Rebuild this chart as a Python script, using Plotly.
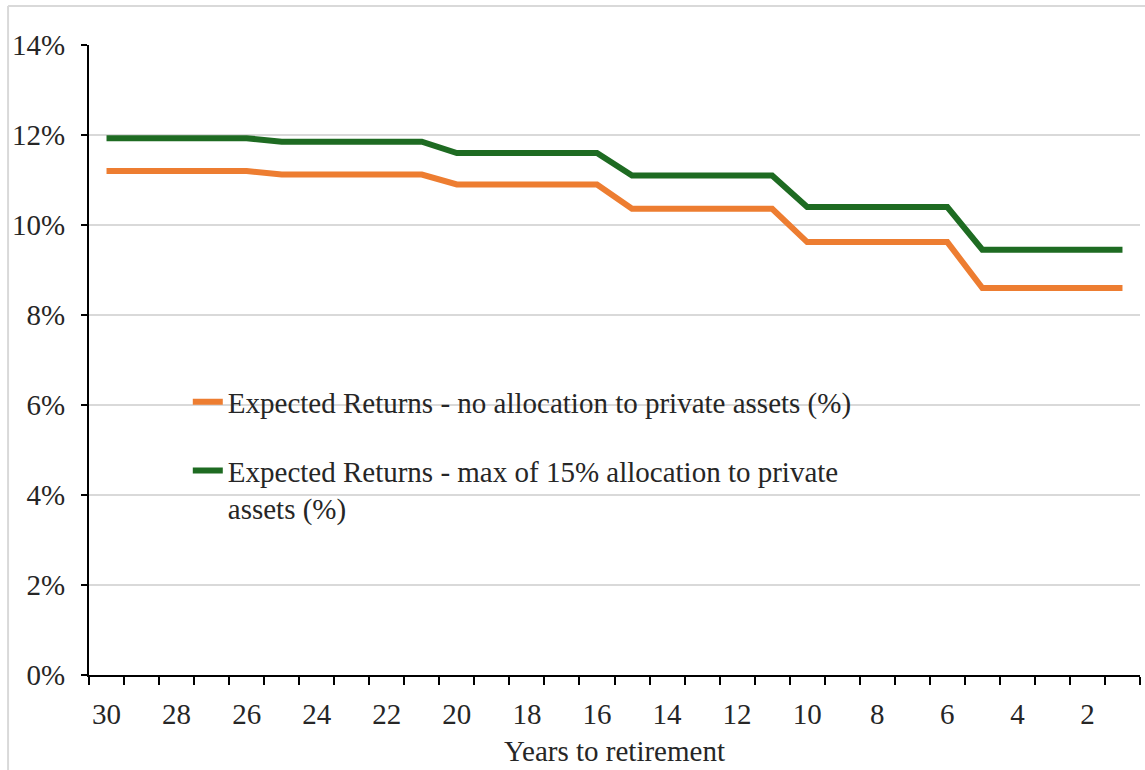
import plotly.graph_objects as go

years = ["30", "29", "28", "27", "26", "25", "24", "23", "22", "21",
         "20", "19", "18", "17", "16", "15", "14", "13", "12", "11",
         "10", "9", "8", "7", "6", "5", "4", "3", "2", "1"]

no_private = [11.20, 11.20, 11.20, 11.20, 11.20,
              11.12, 11.12, 11.12, 11.12, 11.12,
              10.90, 10.90, 10.90, 10.90, 10.90,
              10.36, 10.36, 10.36, 10.36, 10.36,
              9.62, 9.62, 9.62, 9.62, 9.62,
              8.60, 8.60, 8.60, 8.60, 8.60]

max15_private = [11.93, 11.93, 11.93, 11.93, 11.93,
                 11.85, 11.85, 11.85, 11.85, 11.85,
                 11.60, 11.60, 11.60, 11.60, 11.60,
                 11.10, 11.10, 11.10, 11.10, 11.10,
                 10.40, 10.40, 10.40, 10.40, 10.40,
                 9.45, 9.45, 9.45, 9.45, 9.45]

x_labels = ["30", "", "28", "", "26", "", "24", "", "22", "",
            "20", "", "18", "", "16", "", "14", "", "12", "",
            "10", "", "8", "", "6", "", "4", "", "2", ""]

y_ticks = [0, 2, 4, 6, 8, 10, 12, 14]
y_labels = ["0%", "2%", "4%", "6%", "8%", "10%", "12%", "14%"]

name_orange = "Expected Returns - no allocation to private assets (%)"
name_green = "Expected Returns - max of 15% allocation to private<br>assets (%)"

FONT = "Liberation Serif, DejaVu Serif, Noto Serif, serif"
FS = 29
TXT = "#262626"

fig = go.Figure()
fig.add_trace(go.Scatter(x=years, y=no_private, mode="lines", name=name_orange,
                         legendgroup="a",
                         line=dict(color="#ED7D31", width=6)))
fig.add_trace(go.Scatter(x=years, y=max15_private, mode="lines", name=name_green,
                         legendgroup="b",
                         line=dict(color="#1E6B22", width=6)))

fig.update_layout(
    width=1145, height=770,
    margin=dict(l=89, r=5, t=45, b=95),
    paper_bgcolor="white", plot_bgcolor="white",
    font=dict(family=FONT, size=FS, color=TXT),
    showlegend=True,
    legend=dict(x=0.094, y=0.474, xanchor="left", yanchor="top",
                bgcolor="rgba(0,0,0,0)", font=dict(family=FONT, size=FS, color=TXT),
                tracegroupgap=28, traceorder="grouped", valign="top"),
    xaxis=dict(type="category", range=[-0.5, 29.5], tickmode="array", tickvals=years,
               ticktext=x_labels, tickangle=0,
               tickson="boundaries", ticks="outside", ticklen=8, tickwidth=2, tickcolor="black",
               showline=True, linecolor="black", linewidth=2, showgrid=False,
               ticklabelstandoff=12,
               title=dict(text="Years to retirement", standoff=12,
                          font=dict(family=FONT, size=FS, color=TXT)),
               tickfont=dict(family=FONT, size=FS, color=TXT)),
    yaxis=dict(range=[0, 14], tickmode="array", tickvals=y_ticks, ticktext=y_labels,
               ticks="outside", ticklen=6, tickwidth=2, tickcolor="black",
               showline=True, linecolor="black", linewidth=2,
               showgrid=True, gridcolor="#D9D9D9", gridwidth=1.5, zeroline=False,
               ticklabelstandoff=10,
               tickfont=dict(family=FONT, size=FS, color=TXT)),
    shapes=[
        dict(type="line", xref="paper", yref="paper", x0=-0.077, x1=1.01, y0=1.062, y1=1.062,
             line=dict(color="#D9D9D9", width=2)),
        dict(type="line", xref="paper", yref="paper", x0=-0.077, x1=-0.077, y0=1.062, y1=-0.16,
             line=dict(color="#D9D9D9", width=2)),
    ],
)

fig.write_html("out.html")
